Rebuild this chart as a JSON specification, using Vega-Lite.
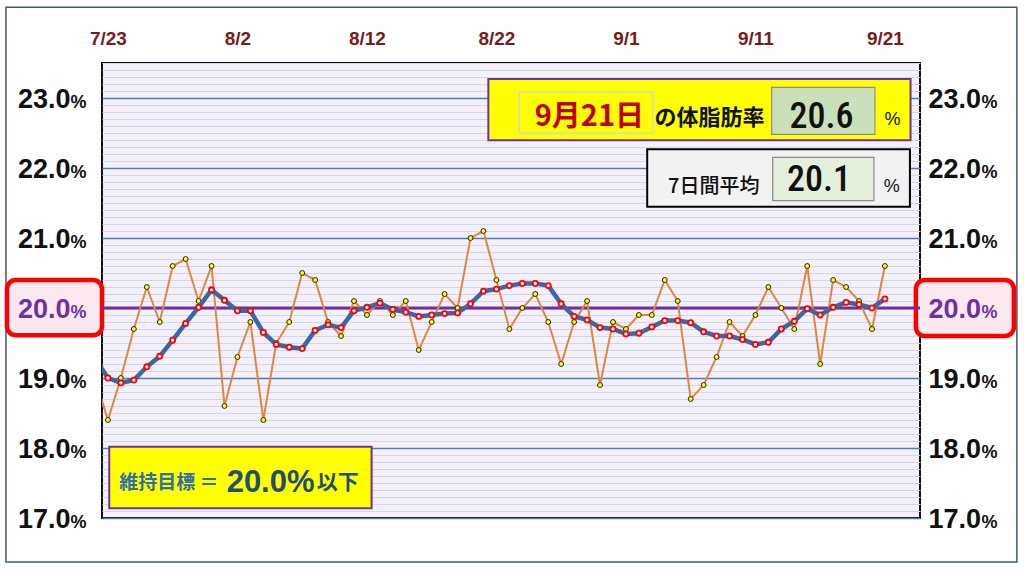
{
  "$schema": "https://vega.github.io/schema/vega-lite/v6.json",
  "width": 818,
  "height": 455,
  "autosize": {"type": "none"},
  "padding": {"left": 102, "top": 63, "right": 104, "bottom": 51},
  "background": "#ffffff",
  "data": {
    "values": [
      {"date": "2023-07-22", "w": 19.0, "a": 19.28},
      {"date": "2023-07-23", "w": 18.4, "a": 19.00},
      {"date": "2023-07-24", "w": 19.0, "a": 18.93},
      {"date": "2023-07-25", "w": 19.7, "a": 18.97},
      {"date": "2023-07-26", "w": 20.3, "a": 19.16},
      {"date": "2023-07-27", "w": 19.8, "a": 19.31},
      {"date": "2023-07-28", "w": 20.6, "a": 19.54},
      {"date": "2023-07-29", "w": 20.7, "a": 19.78},
      {"date": "2023-07-30", "w": 20.1, "a": 20.01},
      {"date": "2023-07-31", "w": 20.6, "a": 20.26},
      {"date": "2023-08-01", "w": 18.6, "a": 20.11},
      {"date": "2023-08-02", "w": 19.3, "a": 19.96},
      {"date": "2023-08-03", "w": 19.8, "a": 19.96},
      {"date": "2023-08-04", "w": 18.4, "a": 19.65},
      {"date": "2023-08-05", "w": 19.5, "a": 19.48},
      {"date": "2023-08-06", "w": 19.8, "a": 19.44},
      {"date": "2023-08-07", "w": 20.5, "a": 19.42},
      {"date": "2023-08-08", "w": 20.4, "a": 19.68},
      {"date": "2023-08-09", "w": 19.8, "a": 19.76},
      {"date": "2023-08-10", "w": 19.6, "a": 19.72},
      {"date": "2023-08-11", "w": 20.1, "a": 19.96},
      {"date": "2023-08-12", "w": 19.9, "a": 20.01},
      {"date": "2023-08-13", "w": 20.1, "a": 20.07},
      {"date": "2023-08-14", "w": 19.9, "a": 19.98},
      {"date": "2023-08-15", "w": 20.1, "a": 19.94},
      {"date": "2023-08-16", "w": 19.4, "a": 19.88},
      {"date": "2023-08-17", "w": 19.8, "a": 19.90},
      {"date": "2023-08-18", "w": 20.2, "a": 19.92},
      {"date": "2023-08-19", "w": 20.0, "a": 19.93},
      {"date": "2023-08-20", "w": 21.0, "a": 20.06},
      {"date": "2023-08-21", "w": 21.1, "a": 20.24},
      {"date": "2023-08-22", "w": 20.4, "a": 20.27},
      {"date": "2023-08-23", "w": 19.7, "a": 20.32},
      {"date": "2023-08-24", "w": 20.0, "a": 20.35},
      {"date": "2023-08-25", "w": 20.2, "a": 20.35},
      {"date": "2023-08-26", "w": 19.8, "a": 20.32},
      {"date": "2023-08-27", "w": 19.2, "a": 20.06},
      {"date": "2023-08-28", "w": 19.8, "a": 19.88},
      {"date": "2023-08-29", "w": 20.1, "a": 19.83},
      {"date": "2023-08-30", "w": 18.9, "a": 19.72},
      {"date": "2023-08-31", "w": 19.8, "a": 19.70},
      {"date": "2023-09-01", "w": 19.7, "a": 19.63},
      {"date": "2023-09-02", "w": 19.9, "a": 19.64},
      {"date": "2023-09-03", "w": 19.9, "a": 19.73},
      {"date": "2023-09-04", "w": 20.4, "a": 19.82},
      {"date": "2023-09-05", "w": 20.1, "a": 19.82},
      {"date": "2023-09-06", "w": 18.7, "a": 19.79},
      {"date": "2023-09-07", "w": 18.9, "a": 19.66},
      {"date": "2023-09-08", "w": 19.3, "a": 19.60},
      {"date": "2023-09-09", "w": 19.8, "a": 19.60},
      {"date": "2023-09-10", "w": 19.6, "a": 19.55},
      {"date": "2023-09-11", "w": 19.9, "a": 19.48},
      {"date": "2023-09-12", "w": 20.3, "a": 19.51},
      {"date": "2023-09-13", "w": 20.0, "a": 19.70},
      {"date": "2023-09-14", "w": 19.7, "a": 19.81},
      {"date": "2023-09-15", "w": 20.6, "a": 19.99},
      {"date": "2023-09-16", "w": 19.2, "a": 19.90},
      {"date": "2023-09-17", "w": 20.4, "a": 20.01},
      {"date": "2023-09-18", "w": 20.3, "a": 20.08},
      {"date": "2023-09-19", "w": 20.1, "a": 20.05},
      {"date": "2023-09-20", "w": 19.7, "a": 20.00},
      {"date": "2023-09-21", "w": 20.6, "a": 20.13}
    ]
  },
  "resolve": {"axis": {"y": "independent"}},
  "layer": [
    {
      "data": {"values": [{"x1": "2023-07-15T03:00:00Z", "x2": "2023-10-01T04:30:00Z", "y1": 24.296, "y2": 16.371}]},
      "mark": {"type": "rect", "filled": false, "stroke": "#3A5A7C", "strokeWidth": 1.5},
      "encoding": {
        "x": {
          "field": "x1", "type": "temporal",
          "scale": {"type": "utc", "domain": [{"year": 2023, "month": 7, "date": 22, "hours": 13, "utc": true}, {"year": 2023, "month": 9, "date": 23, "hours": 17, "utc": true}], "nice": false},
          "axis": {
            "orient": "top", "title": null, "grid": false, "ticks": false, "domain": false,
            "values": [1690070400000, 1690934400000, 1691798400000, 1692662400000, 1693526400000, 1694390400000, 1695254400000],
            "labelExpr": "utcFormat(datum.value, '%-m/%-d')",
            "labelFont": "Liberation Sans", "labelFontSize": 19, "labelFontWeight": "bold",
            "labelColor": "#7B1A1A", "labelPadding": 15, "labelOverlap": false, "labelFlush": false,
            "labelBound": false, "zindex": 1
          }
        },
        "x2": {"field": "x2"},
        "y": {"field": "y1", "type": "quantitative", "scale": {"domain": [17, 23.5], "nice": false, "zero": false}, "axis": null},
        "y2": {"field": "y2"}
      }
    },
    {
      "data": {"values": [
        {"x1": "2023-07-15T04:50:00Z", "x2": "2023-07-22T13:00:00Z", "y1": 20.40, "y2": 19.61},
        {"x1": "2023-09-23T09:20:00Z", "x2": "2023-09-30T23:00:00Z", "y1": 20.40, "y2": 19.60}
      ]},
      "mark": {"type": "rect", "fill": "#FCE9EF", "stroke": "#FF0000", "strokeWidth": 4.5, "cornerRadius": 9},
      "encoding": {
        "x": {"field": "x1", "type": "temporal", "scale": {"type": "utc", "domain": [{"year": 2023, "month": 7, "date": 22, "hours": 13, "utc": true}, {"year": 2023, "month": 9, "date": 23, "hours": 17, "utc": true}], "nice": false}},
        "x2": {"field": "x2"},
        "y": {"field": "y1", "type": "quantitative", "scale": {"domain": [17, 23.5], "nice": false, "zero": false}, "axis": null},
        "y2": {"field": "y2"}
      }
    },
    {
      "data": {"values": [{"goal": 20}]},
      "mark": {"type": "rule", "color": "#7030A0", "strokeWidth": 3},
      "encoding": {
        "y": {
          "field": "goal", "type": "quantitative",
          "scale": {"domain": [17, 23.5], "nice": false, "zero": false},
          "axis": {
            "orient": "right", "title": null, "grid": false, "ticks": false, "domain": false,
            "values": [17, 18, 19, 20, 21, 22, 23], "labelExpr": "'%'",
            "labelFont": "Liberation Sans", "labelFontSize": 18, "labelFontWeight": "bold",
            "labelColor": {"condition": {"test": "datum.value == 20", "value": "#7030A0"}, "value": "#111111"},
            "labelPadding": 61, "labelBaseline": "alphabetic", "labelOffset": 9.5,
            "labelOverlap": false, "labelBound": false, "zindex": 1
          }
        }
      }
    },
    {
      "mark": {"type": "line", "color": "#E2863F", "strokeWidth": 2, "clip": true},
      "encoding": {
        "x": {"field": "date", "type": "temporal", "scale": {"type": "utc", "domain": [{"year": 2023, "month": 7, "date": 22, "hours": 13, "utc": true}, {"year": 2023, "month": 9, "date": 23, "hours": 17, "utc": true}], "nice": false}},
        "y": {
          "field": "w", "type": "quantitative",
          "scale": {"domain": [17, 23.5], "nice": false, "zero": false},
          "axis": {
            "orient": "left", "title": null, "grid": true, "tickCount": 65,
            "labels": false, "ticks": false, "domain": false,
            "gridColor": {"condition": {"test": "datum.value % 1 == 0", "value": "#4A7EBB"}, "value": "#C9DAEE"},
            "gridWidth": {"condition": {"test": "datum.value % 1 == 0", "value": 1.6}, "value": 1},
            "zindex": 0
          }
        }
      }
    },
    {
      "mark": {"type": "point", "filled": true, "fill": "#FFFF00", "stroke": "#222222", "strokeWidth": 1, "size": 24, "opacity": 1, "clip": true},
      "encoding": {
        "x": {"field": "date", "type": "temporal", "scale": {"type": "utc", "domain": [{"year": 2023, "month": 7, "date": 22, "hours": 13, "utc": true}, {"year": 2023, "month": 9, "date": 23, "hours": 17, "utc": true}], "nice": false}},
        "y": {
          "field": "w", "type": "quantitative",
          "scale": {"domain": [17, 23.5], "nice": false, "zero": false},
          "axis": {
            "orient": "left", "title": null, "grid": false, "ticks": false, "domain": false,
            "values": [17, 18, 19, 20, 21, 22, 23], "labelExpr": "'%'",
            "labelFont": "Liberation Sans", "labelFontSize": 18, "labelFontWeight": "bold",
            "labelColor": {"condition": {"test": "datum.value == 20", "value": "#7030A0"}, "value": "#111111"},
            "labelPadding": 16, "labelBaseline": "alphabetic", "labelOffset": 9.5,
            "labelOverlap": false, "labelBound": false, "zindex": 1
          }
        }
      }
    },
    {
      "mark": {"type": "line", "color": "#3B67A6", "strokeWidth": 4.5, "clip": true},
      "encoding": {
        "x": {"field": "date", "type": "temporal", "scale": {"type": "utc", "domain": [{"year": 2023, "month": 7, "date": 22, "hours": 13, "utc": true}, {"year": 2023, "month": 9, "date": 23, "hours": 17, "utc": true}], "nice": false}},
        "y": {
          "field": "a", "type": "quantitative",
          "scale": {"domain": [17, 23.5], "nice": false, "zero": false},
          "axis": {
            "orient": "left", "title": null, "grid": false, "ticks": false, "domain": false,
            "values": [17, 18, 19, 20, 21, 22, 23], "labelExpr": "format(datum.value, '.1f')",
            "labelFont": "Liberation Sans", "labelFontSize": 27, "labelFontWeight": "bold",
            "labelColor": {"condition": {"test": "datum.value == 20", "value": "#7030A0"}, "value": "#111111"},
            "labelPadding": 32, "labelBaseline": "alphabetic", "labelOffset": 9.5,
            "labelOverlap": false, "labelBound": false, "zindex": 1
          }
        }
      }
    },
    {
      "mark": {"type": "point", "filled": true, "fill": "#FFFFFF", "stroke": "#FF0000", "strokeWidth": 1.8, "size": 26, "opacity": 1, "clip": true},
      "encoding": {
        "x": {"field": "date", "type": "temporal", "scale": {"type": "utc", "domain": [{"year": 2023, "month": 7, "date": 22, "hours": 13, "utc": true}, {"year": 2023, "month": 9, "date": 23, "hours": 17, "utc": true}], "nice": false}},
        "y": {
          "field": "a", "type": "quantitative",
          "scale": {"domain": [17, 23.5], "nice": false, "zero": false},
          "axis": {
            "orient": "right", "title": null, "grid": false, "ticks": false, "domain": false,
            "values": [17, 18, 19, 20, 21, 22, 23], "labelExpr": "format(datum.value, '.1f')",
            "labelFont": "Liberation Sans", "labelFontSize": 27, "labelFontWeight": "bold",
            "labelColor": {"condition": {"test": "datum.value == 20", "value": "#7030A0"}, "value": "#111111"},
            "labelPadding": 8, "labelBaseline": "alphabetic", "labelOffset": 9.5,
            "labelOverlap": false, "labelBound": false, "zindex": 1
          }
        }
      }
    },
    {
      "data": {"values": [
        {"x1": "2023-08-21T09:00:00Z", "x2": "2023-09-22T23:30:00Z", "y1": 23.271, "y2": 22.396},
        {"x1": "2023-07-23T02:25:00Z", "x2": "2023-08-12T08:40:00Z", "y1": 18.019, "y2": 17.139}
      ]},
      "mark": {"type": "rect", "fill": "#FFFF00", "stroke": "#7030A0", "strokeWidth": 2},
      "encoding": {
        "x": {"field": "x1", "type": "temporal", "scale": {"type": "utc", "domain": [{"year": 2023, "month": 7, "date": 22, "hours": 13, "utc": true}, {"year": 2023, "month": 9, "date": 23, "hours": 17, "utc": true}], "nice": false}},
        "x2": {"field": "x2"},
        "y": {"field": "y1", "type": "quantitative", "scale": {"domain": [17, 23.5], "nice": false, "zero": false}, "axis": null},
        "y2": {"field": "y2"}
      }
    },
    {
      "data": {"values": [{"x1": "2023-09-02T15:25:00Z", "x2": "2023-09-22T22:20:00Z", "y1": 22.267, "y2": 21.447}]},
      "mark": {"type": "rect", "fill": "#F2F2F2", "stroke": "#000000", "strokeWidth": 2},
      "encoding": {
        "x": {"field": "x1", "type": "temporal", "scale": {"type": "utc", "domain": [{"year": 2023, "month": 7, "date": 22, "hours": 13, "utc": true}, {"year": 2023, "month": 9, "date": 23, "hours": 17, "utc": true}], "nice": false}},
        "x2": {"field": "x2"},
        "y": {"field": "y1", "type": "quantitative", "scale": {"domain": [17, 23.5], "nice": false, "zero": false}, "axis": null},
        "y2": {"field": "y2"}
      }
    },
    {
      "data": {"values": [{"x1": "2023-08-23T18:15:00Z", "x2": "2023-09-03T01:30:00Z", "y1": 23.09, "y2": 22.496}]},
      "mark": {"type": "rect", "fill": "#FFFF00", "stroke": "#D6D6D6", "strokeWidth": 1.5},
      "encoding": {
        "x": {"field": "x1", "type": "temporal", "scale": {"type": "utc", "domain": [{"year": 2023, "month": 7, "date": 22, "hours": 13, "utc": true}, {"year": 2023, "month": 9, "date": 23, "hours": 17, "utc": true}], "nice": false}},
        "x2": {"field": "x2"},
        "y": {"field": "y1", "type": "quantitative", "scale": {"domain": [17, 23.5], "nice": false, "zero": false}, "axis": null},
        "y2": {"field": "y2"}
      }
    },
    {
      "data": {"values": [
        {"box": "today", "x1": "2023-09-12T06:00:00Z", "x2": "2023-09-20T05:30:00Z", "y1": 23.153, "y2": 22.481},
        {"box": "avg", "x1": "2023-09-12T08:00:00Z", "x2": "2023-09-20T03:40:00Z", "y1": 22.153, "y2": 21.533}
      ]},
      "mark": {"type": "rect", "stroke": "#8C8C8C", "strokeWidth": 1.2},
      "encoding": {
        "x": {"field": "x1", "type": "temporal", "scale": {"type": "utc", "domain": [{"year": 2023, "month": 7, "date": 22, "hours": 13, "utc": true}, {"year": 2023, "month": 9, "date": 23, "hours": 17, "utc": true}], "nice": false}},
        "x2": {"field": "x2"},
        "y": {"field": "y1", "type": "quantitative", "scale": {"domain": [17, 23.5], "nice": false, "zero": false}, "axis": null},
        "y2": {"field": "y2"},
        "fill": {"field": "box", "type": "nominal", "scale": {"domain": ["today", "avg"], "range": ["#C9E0B9", "#E3EFDB"]}, "legend": null}
      }
    },
    {
      "data": {"values": [{"label": "9月21日", "tx": "2023-08-29T04:20:00Z", "ty": 22.73}]},
      "mark": {"type": "text", "font": "Noto Sans CJK JP", "fontSize": 29, "fontWeight": "bold", "color": "#C00000", "align": "center", "baseline": "middle"},
      "encoding": {
        "x": {"field": "tx", "type": "temporal", "scale": {"type": "utc", "domain": [{"year": 2023, "month": 7, "date": 22, "hours": 13, "utc": true}, {"year": 2023, "month": 9, "date": 23, "hours": 17, "utc": true}], "nice": false}},
        "y": {"field": "ty", "type": "quantitative", "scale": {"domain": [17, 23.5], "nice": false, "zero": false}, "axis": null},
        "text": {"field": "label"}
      }
    },
    {
      "data": {"values": [{"label": "の体脂肪率", "tx": "2023-09-07T11:00:00Z", "ty": 22.71}]},
      "mark": {"type": "text", "font": "Noto Sans CJK JP", "fontSize": 22, "fontWeight": "bold", "color": "#111111", "align": "center", "baseline": "middle"},
      "encoding": {
        "x": {"field": "tx", "type": "temporal", "scale": {"type": "utc", "domain": [{"year": 2023, "month": 7, "date": 22, "hours": 13, "utc": true}, {"year": 2023, "month": 9, "date": 23, "hours": 17, "utc": true}], "nice": false}},
        "y": {"field": "ty", "type": "quantitative", "scale": {"domain": [17, 23.5], "nice": false, "zero": false}, "axis": null},
        "text": {"field": "label"}
      }
    },
    {
      "data": {"values": [{"label": "7日間平均", "tx": "2023-09-07T18:40:00Z", "ty": 21.733}]},
      "mark": {"type": "text", "font": "Noto Sans CJK JP", "fontSize": 20, "fontWeight": 500, "color": "#111111", "align": "center", "baseline": "middle"},
      "encoding": {
        "x": {"field": "tx", "type": "temporal", "scale": {"type": "utc", "domain": [{"year": 2023, "month": 7, "date": 22, "hours": 13, "utc": true}, {"year": 2023, "month": 9, "date": 23, "hours": 17, "utc": true}], "nice": false}},
        "y": {"field": "ty", "type": "quantitative", "scale": {"domain": [17, 23.5], "nice": false, "zero": false}, "axis": null},
        "text": {"field": "label"}
      }
    },
    {
      "data": {"values": [
        {"label": "20.6", "tx": "2023-09-16T02:40:00Z", "ty": 22.73},
        {"label": "20.1", "tx": "2023-09-15T21:40:00Z", "ty": 21.83}
      ]},
      "mark": {"type": "text", "font": "Liberation Sans Narrow, Roboto Condensed, Roboto", "fontSize": 36, "fontWeight": 500, "color": "#111111", "align": "center", "baseline": "middle"},
      "encoding": {
        "x": {"field": "tx", "type": "temporal", "scale": {"type": "utc", "domain": [{"year": 2023, "month": 7, "date": 22, "hours": 13, "utc": true}, {"year": 2023, "month": 9, "date": 23, "hours": 17, "utc": true}], "nice": false}},
        "y": {"field": "ty", "type": "quantitative", "scale": {"domain": [17, 23.5], "nice": false, "zero": false}, "axis": null},
        "text": {"field": "label"}
      }
    },
    {
      "data": {"values": [
        {"label": "%", "tx": "2023-09-21T14:10:00Z", "ty": 22.686},
        {"label": "%", "tx": "2023-09-21T12:30:00Z", "ty": 21.733}
      ]},
      "mark": {"type": "text", "font": "Liberation Sans", "fontSize": 18, "color": "#111111", "align": "center", "baseline": "middle"},
      "encoding": {
        "x": {"field": "tx", "type": "temporal", "scale": {"type": "utc", "domain": [{"year": 2023, "month": 7, "date": 22, "hours": 13, "utc": true}, {"year": 2023, "month": 9, "date": 23, "hours": 17, "utc": true}], "nice": false}},
        "y": {"field": "ty", "type": "quantitative", "scale": {"domain": [17, 23.5], "nice": false, "zero": false}, "axis": null},
        "text": {"field": "label"}
      }
    },
    {
      "data": {"values": [{"label": "維持目標 ＝", "tx": "2023-07-23T21:00:00Z", "ty": 17.504}]},
      "mark": {"type": "text", "font": "Noto Sans CJK JP", "fontSize": 19, "fontWeight": "bold", "color": "#2F6EAA", "align": "left", "baseline": "middle"},
      "encoding": {
        "x": {"field": "tx", "type": "temporal", "scale": {"type": "utc", "domain": [{"year": 2023, "month": 7, "date": 22, "hours": 13, "utc": true}, {"year": 2023, "month": 9, "date": 23, "hours": 17, "utc": true}], "nice": false}},
        "y": {"field": "ty", "type": "quantitative", "scale": {"domain": [17, 23.5], "nice": false, "zero": false}, "axis": null},
        "text": {"field": "label"}
      }
    },
    {
      "data": {"values": [{"label": "20.0%", "tx": "2023-08-01T04:00:00Z", "ty": 17.504}]},
      "mark": {"type": "text", "font": "Liberation Sans", "fontSize": 31, "fontWeight": "bold", "color": "#1F4E79", "align": "left", "baseline": "middle"},
      "encoding": {
        "x": {"field": "tx", "type": "temporal", "scale": {"type": "utc", "domain": [{"year": 2023, "month": 7, "date": 22, "hours": 13, "utc": true}, {"year": 2023, "month": 9, "date": 23, "hours": 17, "utc": true}], "nice": false}},
        "y": {"field": "ty", "type": "quantitative", "scale": {"domain": [17, 23.5], "nice": false, "zero": false}, "axis": null},
        "text": {"field": "label"}
      }
    },
    {
      "data": {"values": [{"label": "以下", "tx": "2023-08-08T03:00:00Z", "ty": 17.504}]},
      "mark": {"type": "text", "font": "Noto Sans CJK JP", "fontSize": 21, "fontWeight": "bold", "color": "#1F4E79", "align": "left", "baseline": "middle"},
      "encoding": {
        "x": {"field": "tx", "type": "temporal", "scale": {"type": "utc", "domain": [{"year": 2023, "month": 7, "date": 22, "hours": 13, "utc": true}, {"year": 2023, "month": 9, "date": 23, "hours": 17, "utc": true}], "nice": false}},
        "y": {"field": "ty", "type": "quantitative", "scale": {"domain": [17, 23.5], "nice": false, "zero": false}, "axis": null},
        "text": {"field": "label"}
      }
    }
  ],
  "config": {
    "view": {"fill": "#F5F0F8", "stroke": "#111111", "strokeWidth": 2},
    "axisX": {
      "labelFont": "Liberation Sans", "labelFontSize": 19, "labelFontWeight": "bold",
      "labelColor": "#7B1A1A", "labelPadding": 15, "ticks": false, "domain": false, "grid": false
    }
  }
}
